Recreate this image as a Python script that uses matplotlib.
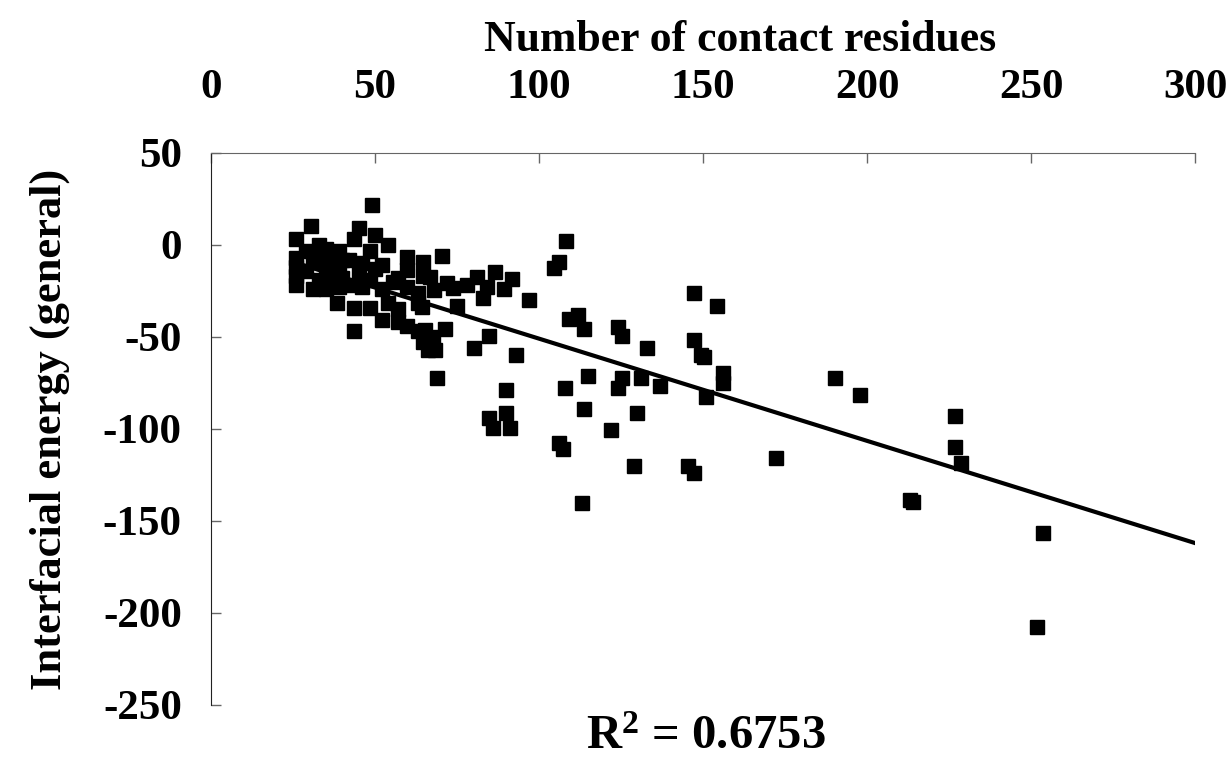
import numpy as np
import matplotlib
matplotlib.use("Agg")
import matplotlib.pyplot as plt

# contact residues vs interfacial energy
contacts = [
    26, 26, 26, 26, 26, 29, 29, 30.5, 31, 31, 33, 33, 33, 35, 35, 35,
    37, 37, 37, 39, 39, 39, 38.4, 40, 40, 42, 42, 43.6, 43.6, 43.6, 45, 45,
    46, 46, 48.5, 48.5, 48.5, 49, 50, 50, 52, 52, 52, 54, 54, 55.5, 57, 57,
    57, 59.8, 59.8, 59.8, 59.8, 63, 63, 63, 64.6, 64.6, 64.6,
    64.3, 65.2, 66.2, 66.8, 67.7, 68, 68.3, 68.9, 70.4, 71.3, 71.9, 73.8,
    75, 78, 80.2, 81.1, 82.9, 84.1, 84.8, 84.8, 86, 86.6, 89.3, 89.9, 89.9,
    91.2, 91.8, 93, 97,
    104.6, 106.1, 106.1, 107.3, 107.9, 108.2, 109.1, 111.9, 113.1, 113.7,
    113.7, 114.9, 122, 124.1, 124.1, 125.3, 125.3, 129, 129.9, 131.1, 132.9,
    136.9, 145.4, 147.3, 147.3, 147.3, 149.4, 150.3, 150.9, 154.3, 156.1,
    156.1, 172.3, 190.2, 197.9, 213.1, 214, 226.8, 226.8, 228.7, 251.8, 253.7,
]
energy = [
    3, -7, -12, -17, -22, -3, -14, 10.3, -24, -8, 0, -5, -19, -2, -11, -24,
    -9, -18, -22, -3, -13, -23, -31.5, -8, -18, -8, -22, 3.3, -34, -47, 9, -15,
    -10, -23, -3, -19, -34, 21.7, 5.4, -13, -11, -24, -41, 0, -31.5, -20, -18, -35,
    -42, -6.5, -13.6, -23, -44, -31.5, -26, -47, -9, -17, -52.7,
    -33.7, -46.2, -57, -17.4, -50, -24.5, -57, -72.3, -6, -45.7, -20.7, -23.4,
    -33, -21.7, -56, -17.4, -28.8, -22.8, -49.5, -94, -99.5, -14.7, -23.9, -78.8, -91.3,
    -99.5, -18.5, -59.8, -29.9,
    -12.5, -9.2, -107.6, -110.9, -77.7, 2.2, -40, -38, -140, -45.7,
    -89.1, -71.2, -100.5, -44.6, -77.7, -49.5, -72.3, -120.1, -91.3, -72.3, -56,
    -76.6, -120.1, -26, -51.6, -123.9, -59.8, -60.9, -82.6, -33, -69.6,
    -75, -115.8, -72.3, -81.5, -138.6, -139.7, -92.9, -109.8, -118.5, -207.6, -156.5,
]

# linear trend line (Excel style, forecast to 300)
trend_x = [26, 300]
trend_y = [-9.8, -162]
r_squared = "0.6753"

x_ticks = [0, 50, 100, 150, 200, 250, 300]
y_ticks = [50, 0, -50, -100, -150, -200, -250]

plt.rcParams["font.family"] = ["Liberation Serif", "DejaVu Serif"]
plt.rcParams["font.weight"] = "bold"
plt.rcParams["axes.unicode_minus"] = False
plt.rcParams["mathtext.fontset"] = "custom"
plt.rcParams["mathtext.rm"] = "Liberation Serif:bold"
plt.rcParams["mathtext.it"] = "Liberation Serif:bold"
plt.rcParams["mathtext.bf"] = "Liberation Serif:bold"

fig = plt.figure(figsize=(12.32, 7.6), dpi=100)
ax = fig.add_axes([0.1713, 0.0724, 0.7987, 0.7263])

ax.plot(contacts, energy, "s", color="black", markersize=9.5, zorder=3)
ax.plot(trend_x, trend_y, color="black", linewidth=3, zorder=2)

ax.set_xlim(0, 300)
ax.set_ylim(-250, 50)
ax.set_xticks(x_ticks)
ax.set_yticks(y_ticks)

ax.xaxis.tick_top()
ax.tick_params(axis="x", direction="in", length=7, width=1, color="#666666",
               labelsize=31, pad=33)
ax.tick_params(axis="y", direction="in", length=7, width=1, color="#666666",
               labelsize=31, pad=21)
for lab in ax.get_xticklabels() + ax.get_yticklabels():
    lab.set_fontweight("bold")

ax.spines["right"].set_visible(False)
ax.spines["bottom"].set_visible(False)
ax.spines["top"].set_color("#666666")
ax.spines["left"].set_color("#222222")

# x title sits above the top tick labels, a bit right of centre
fig.text(0.601, 0.948, "Number of contact residues", fontsize=31.5, fontweight="bold",
         ha="center", va="center")
ax.set_ylabel("Interfacial energy (general)", fontsize=32, fontweight="bold", labelpad=24)

fig.text(0.573, 0.014, r"R$^{2}$ = " + r_squared, fontsize=35, fontweight="bold",
         ha="center", va="baseline")

fig.savefig("out.png", dpi=100)
